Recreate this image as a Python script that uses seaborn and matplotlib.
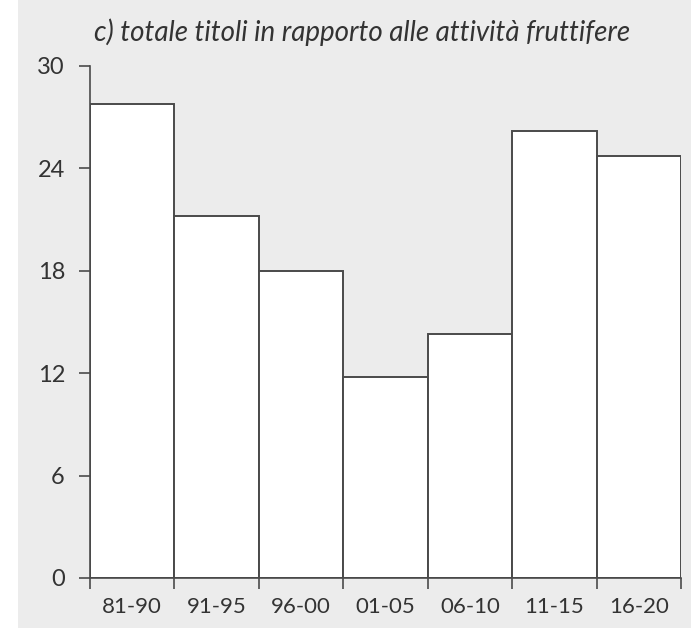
"""Bar chart: totale titoli in rapporto alle attività fruttifere"""

import matplotlib.pyplot as plt
import matplotlib.patches as mpatches
import pandas as pd
import seaborn as sns

periods = ["81-90", "91-95", "96-00", "01-05", "06-10", "11-15", "16-20"]
values = [27.8, 21.2, 18.0, 11.8, 14.3, 26.2, 24.7]
y_ticks = [0, 6, 12, 18, 24, 30]
title = "c) totale titoli in rapporto alle attività fruttifere"

BG = "#ececec"
EDGE = "#4a4a4a"
TEXT = "#333333"


def create_bars(df):
    fig = plt.figure(figsize=(6.91, 6.28), dpi=100, facecolor=BG)
    # white strip on the left edge of the page
    fig.patches.append(mpatches.Rectangle((0, 0), 18 / 691, 1, transform=fig.transFigure,
                                          facecolor="white", edgecolor="none", zorder=-1))
    ax = fig.add_axes([90 / 691, 50 / 628, 591 / 691, 512 / 628])
    ax.set_facecolor("none")

    sns.barplot(data=df, x="period", y="value", width=1.0, color="white",
                edgecolor=EDGE, linewidth=1.4, saturation=1, ax=ax)

    ax.set_xlim(-0.5, len(periods) - 0.5)
    ax.set_ylim(0, 30)
    ax.set_yticks(y_ticks)
    ax.set_yticklabels([str(t) for t in y_ticks])

    # labels centred under the bars, tick marks at bar boundaries
    ax.set_xticks(range(len(periods)))
    ax.set_xticklabels(periods)
    ax.set_xticks([i - 0.5 for i in range(len(periods) + 1)], minor=True)
    ax.tick_params(axis="x", which="major", bottom=True, length=0, pad=14,
                   labelsize=16)
    ax.tick_params(axis="x", which="minor", bottom=True, length=8, width=1.2,
                   color=EDGE, direction="out")
    ax.tick_params(axis="y", left=True, length=8, width=1.2, color=EDGE,
                   direction="out", pad=10, labelsize=17)
    ax.tick_params(labelcolor=TEXT)

    for side in ["top", "right"]:
        ax.spines[side].set_visible(False)
    for side in ["left", "bottom"]:
        ax.spines[side].set_color(EDGE)
        ax.spines[side].set_linewidth(1.2)
    ax.spines["bottom"].set_bounds(-0.5, len(periods) - 0.5)

    ax.set_xlabel("")
    ax.set_ylabel("")
    fig.text(362 / 691, 1 - 32 / 628, title, ha="center", va="center",
             fontsize=20, fontstyle="italic", color=TEXT)

    fig.savefig("out.png", dpi=100, facecolor=BG)


if __name__ == "__main__":
    sns.set_style("white")
    plt.rcParams["font.family"] = ["Lato", "DejaVu Sans"]
    data = pd.DataFrame({"period": periods, "value": values})
    create_bars(data)
